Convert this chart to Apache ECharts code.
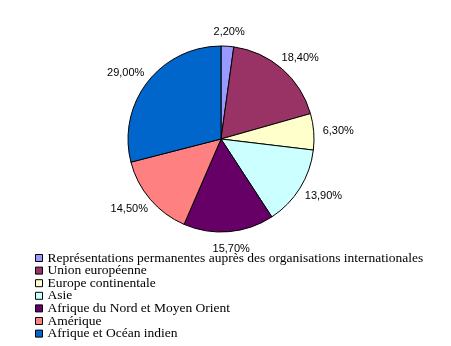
<!DOCTYPE html>
<html>
<head>
<meta charset="utf-8">
<script src="https://cdn.jsdelivr.net/npm/echarts@6/dist/echarts.min.js"></script>
<style>html,body{margin:0;padding:0;background:#fff}#c{width:451px;height:346px}</style>
</head>
<body>
<div id="c"></div>
<script>
const categories = [
  "Représentations permanentes auprès des organisations internationales",
  "Union européenne",
  "Europe continentale",
  "Asie",
  "Afrique du Nord et Moyen Orient",
  "Amérique",
  "Afrique et Océan indien"
];
const values = [2.2, 18.4, 6.3, 13.9, 15.7, 14.5, 29.0];
const colors = ["#9999FF", "#993366", "#FFFFCC", "#CCFFFF", "#660066", "#FF8080", "#0066CC"];

const CX = 221, CY = 139, R = 93, GAP = 9;
const total = values.reduce((a, b) => a + b, 0);

const chart = echarts.init(document.getElementById('c'), null, {renderer: 'canvas'});
chart.setOption({
  animation: false,
  backgroundColor: '#ffffff',
  legend: {
    orient: 'vertical',
    left: 35,
    top: 251,
    height: 150,
    padding: 0,
    itemWidth: 7,
    itemHeight: 7,
    itemGap: -1.4,
    icon: 'rect',
    itemStyle: {borderColor: '#000', borderWidth: 1},
    textStyle: {fontFamily: 'Liberation Serif', fontSize: 13.5, color: '#000'},
    data: categories
  },
  series: [{
    type: 'pie',
    center: [CX, CY],
    radius: R,
    startAngle: 90,
    clockwise: true,
    silent: true,
    itemStyle: {borderColor: '#000', borderWidth: 1},
    label: {
      show: true,
      position: 'outside',
      fontFamily: 'Liberation Sans',
      fontSize: 11,
      color: '#000',
      formatter: p => p.value.toFixed(2).replace('.', ',') + '%'
    },
    labelLine: {show: false},
    labelLayout: function (params) {
      const i = params.dataIndex;
      let cum = 0;
      for (let k = 0; k < i; k++) cum += values[k];
      const mid = (cum + values[i] / 2) / total * 2 * Math.PI;
      const dx = Math.sin(mid), dy = -Math.cos(mid);
      const w = params.labelRect.width, h = params.labelRect.height;
      return {
        x: CX + dx * (R + GAP) + dx * w / 2,
        y: CY + dy * (R + GAP) + dy * h / 2 + (dy > 0.9 ? 3 : 0),
        align: 'center',
        verticalAlign: 'middle'
      };
    },
    data: categories.map((n, i) => ({name: n, value: values[i], itemStyle: {color: colors[i]}}))
  }]
});
</script>
</body>
</html>
